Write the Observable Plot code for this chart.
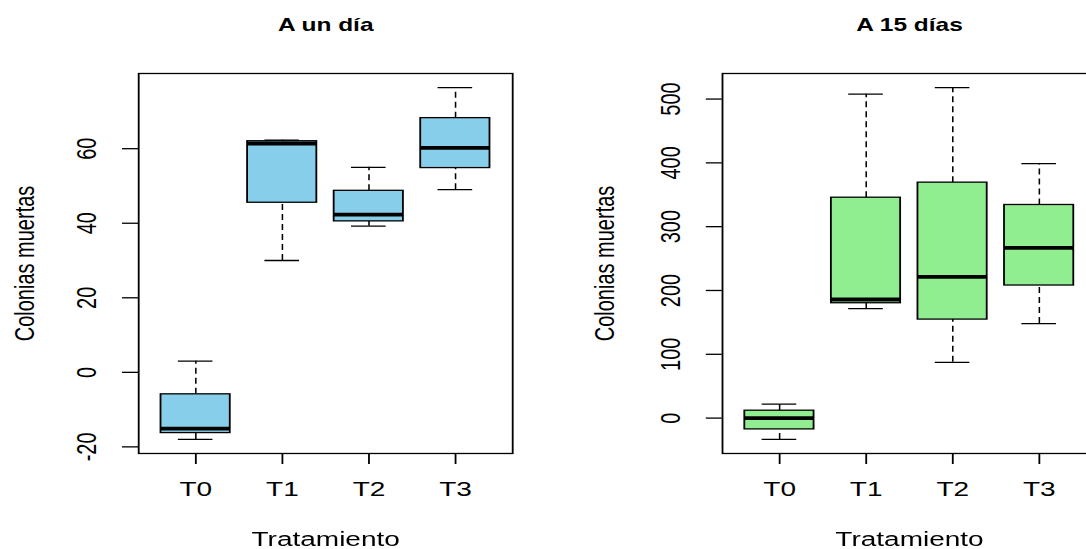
<!DOCTYPE html>
<html>
<head>
<meta charset="utf-8">
<script src="https://cdn.jsdelivr.net/npm/d3@7"></script>
<script src="https://cdn.jsdelivr.net/npm/@observablehq/plot@0.6"></script>
<style>
  html, body { margin: 0; padding: 0; background: #fff; overflow: hidden; }
  #wrap { display: flex; transform-origin: 0 0; }
</style>
</head>
<body>
<div id="wrap"></div>
<script>
// ---- data ----
const tratamientos = ["T0", "T1", "T2", "T3"];

// "A un día"
const dia1Min = [-18.0, 30.0, 39.2, 49.0];
const dia1Q1  = [-16.3, 45.5, 40.5, 54.8];
const dia1Med = [-15.1, 61.4, 42.3, 60.2];
const dia1Q3  = [-5.9, 62.0, 48.7, 68.2];
const dia1Max = [3.0, 62.3, 55.0, 76.4];
const dia1Ticks = [-20, 0, 20, 40, 60];

// "A 15 días"
const dia15Min = [-33.4, 171.7, 87.4, 148.2];
const dia15Q1  = [-17.7, 180.0, 154.4, 207.8];
const dia15Med = [0.0, 185.9, 221.4, 266.9];
const dia15Q3  = [11.6, 345.4, 369.0, 334.0];
const dia15Max = [22.0, 507.7, 518.0, 398.7];
const dia15Ticks = [0, 100, 200, 300, 400, 500];

const titulos = ["A un día", "A 15 días"];
const ejeX = "Tratamiento";
const ejeY = "Colonias muertas";

// ---- layout ----
const S = 1.4;              // horizontal stretch of the reference image
const PW = 584 / S;         // panel width (unscaled)
const FONT = "'Liberation Sans', Arial, Helvetica, sans-serif";

function panel(titulo, mins, q1s, meds, q3s, maxs, ticks, fill, ylabDx) {
  const data = tratamientos.map((t, k) => ({
    t, i: k + 1, min: mins[k], q1: q1s[k], med: meds[k], q3: q3s[k], max: maxs[k]
  }));
  const lo = d3.min(mins), hi = d3.max(maxs), pad = 0.04 * (hi - lo);
  const n = tratamientos.length;
  const xpad = 0.04 * n;
  return Plot.plot({
    width: PW,
    height: 549,
    marginLeft: 138 / S,
    marginRight: 72 / S,
    marginTop: 73,
    marginBottom: 96,
    style: { fontFamily: FONT, background: "#fff", color: "#000", overflow: "visible" },
    x: { domain: [0.5 - xpad, n + 0.5 + xpad], axis: null },
    y: { domain: [lo - pad, hi + pad], axis: null },
    marks: [
      // whiskers
      Plot.ruleX(data, { x: "i", y1: "q3", y2: "max", stroke: "#000", strokeWidth: 1.1, strokeDasharray: "6,4" }),
      Plot.ruleX(data, { x: "i", y1: "min", y2: "q1", stroke: "#000", strokeWidth: 1.1, strokeDasharray: "6,4" }),
      // staples
      Plot.ruleY(data, { y: "max", x1: d => d.i - 0.2, x2: d => d.i + 0.2, stroke: "#000", strokeWidth: 1.3 }),
      Plot.ruleY(data, { y: "min", x1: d => d.i - 0.2, x2: d => d.i + 0.2, stroke: "#000", strokeWidth: 1.3 }),
      // boxes
      Plot.rect(data, { x1: d => d.i - 0.4, x2: d => d.i + 0.4, y1: "q1", y2: "q3", fill, stroke: "#000", strokeWidth: 1.3 }),
      // medians
      Plot.ruleY(data, { y: "med", x1: d => d.i - 0.4, x2: d => d.i + 0.4, stroke: "#000", strokeWidth: 3.8 }),
      // frame
      Plot.frame({ stroke: "#000", strokeWidth: 1.3 }),
      // x axis
      Plot.axisX(data.map(d => d.i), { label: null, tickSize: 11, tickPadding: 17.8, tickFormat: i => tratamientos[i - 1], fontSize: 20, stroke: "#000", strokeWidth: 1.3, fill: "#000" }),
      // y axis ticks
      Plot.axisY(ticks, { label: null, tickSize: 16 / S, tickFormat: () => null, stroke: "#000", strokeWidth: 1.3 }),
      // y tick labels (R style, parallel to axis)
      Plot.text(ticks, { y: d => d, text: d => String(d), frameAnchor: "left", dx: -43 / S, rotate: -90, textAnchor: "middle", lineAnchor: "bottom", fontSize: 20, fill: "#000" }),
      // axis titles
      Plot.text([ejeY], { frameAnchor: "left", dx: -ylabDx / S, rotate: -90, textAnchor: "middle", lineAnchor: "bottom", fontSize: 20, fill: "#000" }),
      Plot.text([ejeX], { frameAnchor: "bottom", dy: 93, textAnchor: "middle", lineAnchor: "bottom", fontSize: 20, fill: "#000" }),
      // main title
      Plot.text([titulo], { frameAnchor: "top", dy: -42, textAnchor: "middle", lineAnchor: "bottom", fontSize: 17.5, fontWeight: "bold", fill: "#000" })
    ]
  });
}

const wrap = document.getElementById("wrap");
wrap.style.width = (2 * PW) + "px";
wrap.style.transform = `scaleX(${S})`;
wrap.append(
  panel(titulos[0], dia1Min, dia1Q1, dia1Med, dia1Q3, dia1Max, dia1Ticks, "#87CEEB", 105),
  panel(titulos[1], dia15Min, dia15Q1, dia15Med, dia15Q3, dia15Max, dia15Ticks, "#90EE90", 109)
);
</script>
</body>
</html>
